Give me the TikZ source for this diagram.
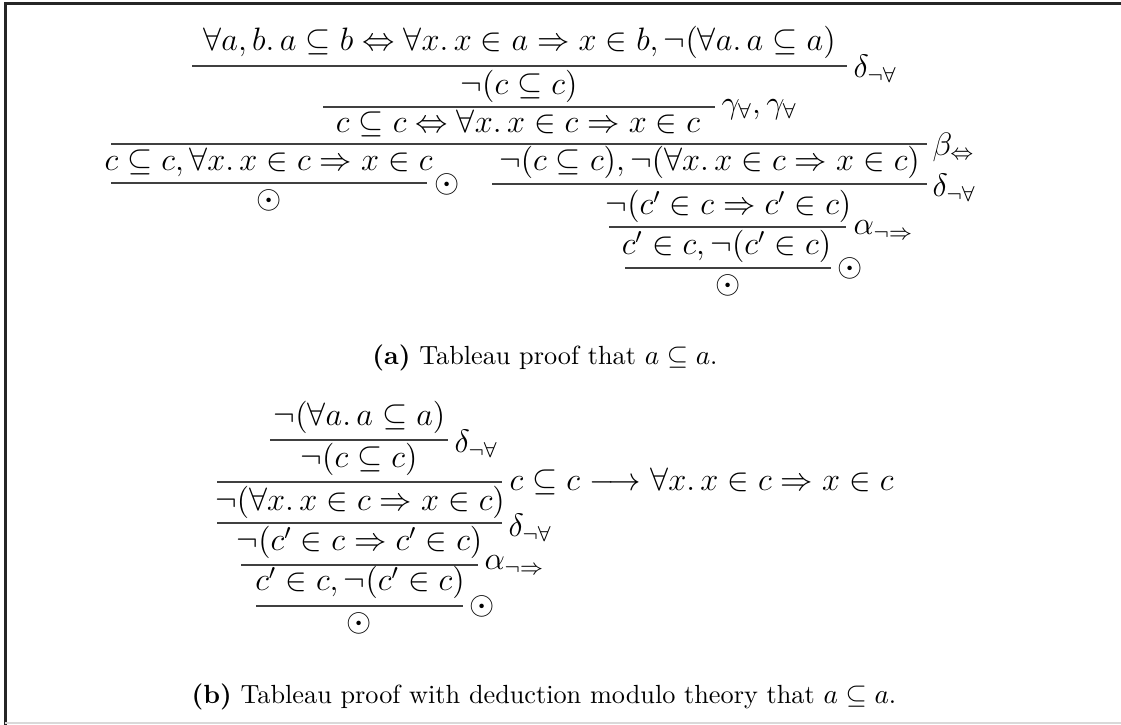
\documentclass[tikz,border=0pt]{standalone}
\usepackage{amsmath,amssymb}
\usepackage{tikz}
\usetikzlibrary{positioning}

\begin{document}
\begin{tikzpicture}[
    x=0.4pt, y=-0.4pt,
    frm/.style={anchor=base, inner sep=0pt, font=\fontsize{12}{14}\selectfont,
      scale=1.08, transform shape},
    rl/.style={anchor=west, inner sep=0pt, font=\fontsize{12}{14}\selectfont,
      scale=1.08, transform shape},
    captxt/.style={inner sep=0pt, font=\fontsize{10.5}{12}\selectfont},
    bar/.style={draw=black!75, line width=0.6pt}
  ]
  \useasboundingbox (0,0) rectangle (1121,725);
  % frame
  \draw[line width=1.2pt, black!85] (1121,4) -- (5,4) -- (5,725);
  \draw[black!15, line width=0.5pt] (5,723) -- (1121,723);

  % (a) tableau
  \node[frm] (fa1) at (519.5,51)
    {$\forall a, b.\, a \subseteq b \Leftrightarrow \forall x.\, x \in a \Rightarrow x \in b, \neg(\forall a.\, a \subseteq a)$};
  \draw[bar] (192,66) -- (847,66);
  \node[rl] (ra1) at (853,69) {$\delta_{\neg\forall}$};
  \node[frm] (fa2) at (519,95) {$\neg(c \subseteq c)$};
  \draw[bar] (323,107) -- (715,107);
  \node[rl] (ra2) at (721,110) {$\gamma_{\forall}, \gamma_{\forall}$};
  \node[frm] (fa3) at (518,133)
    {$c \subseteq c \Leftrightarrow \forall x.\, x \in c \Rightarrow x \in c$};
  \draw[bar] (111,144) -- (927,144);
  \node[rl] (ra3) at (932,147) {$\beta_{\Leftrightarrow}$};

  % left branch
  \node[frm] (fa4) at (268.5,171)
    {$c \subseteq c, \forall x.\, x \in c \Rightarrow x \in c$};
  \draw[bar] (111,183) -- (427,183);
  \node[rl] (ra4) at (434,184) {$\odot$};
  \node[frm, anchor=center] (ca1) at (269,200) {$\odot$};

  % right branch
  \node[frm] (fa5) at (709.5,171)
    {$\neg(c \subseteq c), \neg(\forall x.\, x \in c \Rightarrow x \in c)$};
  \draw[bar] (492,184) -- (927,184);
  \node[rl] (ra5) at (932,188) {$\delta_{\neg\forall}$};
  \node[frm] (fa6) at (728.5,215) {$\neg(c' \in c \Rightarrow c' \in c)$};
  \draw[bar] (609,227) -- (846,227);
  \node[rl] (ra6) at (853,230) {$\alpha_{\neg\Rightarrow}$};
  \node[frm] (fa7) at (726.5,255) {$c' \in c, \neg(c' \in c)$};
  \draw[bar] (625,268) -- (831,268);
  \node[rl] (ra7) at (837,268) {$\odot$};
  \node[frm, anchor=center] (ca2) at (728,285) {$\odot$};

  \node[captxt] (capa) at (545,358) {\textbf{(a)} Tableau proof that $a \subseteq a$.};

  % (b) tableau modulo theory
  \node[frm] (fb1) at (359.5,426) {$\neg(\forall a.\, a \subseteq a)$};
  \draw[bar] (270,440) -- (448,440);
  \node[rl] (rb1) at (454,444) {$\delta_{\neg\forall}$};
  \node[frm] (fb2) at (359,468) {$\neg(c \subseteq c)$};
  \draw[bar] (217,482) -- (502,482);
  \node[rl, anchor=base west] (rb2) at (509,491)
    {$c \subseteq c \longrightarrow \forall x.\, x \in c \Rightarrow x \in c$};
  \node[frm] (fb3) at (360,511) {$\neg(\forall x.\, x \in c \Rightarrow x \in c)$};
  \draw[bar] (217,523) -- (502,523);
  \node[rl] (rb3) at (508,528) {$\delta_{\neg\forall}$};
  \node[frm] (fb4) at (359.5,551) {$\neg(c' \in c \Rightarrow c' \in c)$};
  \draw[bar] (241,565) -- (478,565);
  \node[rl] (rb4) at (484,565) {$\alpha_{\neg\Rightarrow}$};
  \node[frm] (fb5) at (360,591) {$c' \in c, \neg(c' \in c)$};
  \draw[bar] (256,606) -- (463,606);
  \node[rl] (rb5) at (469,606) {$\odot$};
  \node[frm, anchor=center] (cb1) at (359,623) {$\odot$};

  \node[captxt] (capb) at (544,697)
    {\textbf{(b)} Tableau proof with deduction modulo theory that $a \subseteq a$.};
\end{tikzpicture}
\end{document}
